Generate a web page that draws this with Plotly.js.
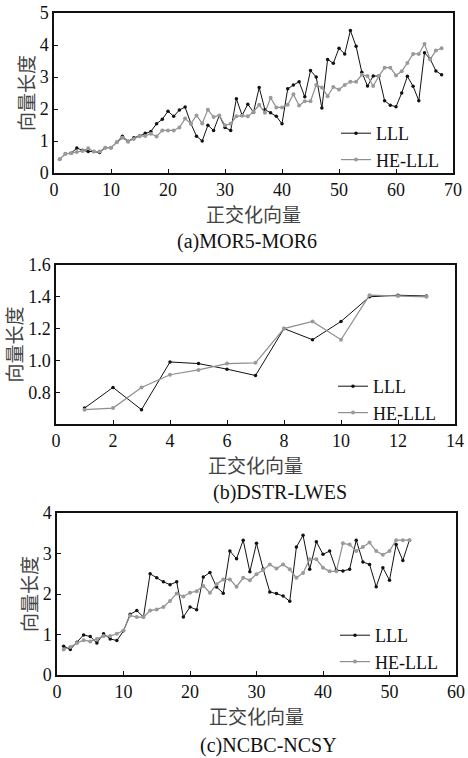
<!DOCTYPE html>
<html>
<head>
<meta charset="utf-8">
<script src="https://cdn.plot.ly/plotly-3.0.1.min.js"></script>
<style>html,body{margin:0;padding:0;background:#fff;}#chart{width:468px;height:758px;}</style>
</head>
<body>
<div id="chart"></div>
<script>
// (a) MOR5-MOR6
const xA = [];
for (let i = 1; i <= 68; i++) xA.push(i);
const lllA = [0.43,0.60,0.62,0.78,0.71,0.67,0.67,0.64,0.79,0.79,
  0.96,1.15,0.99,1.10,1.16,1.24,1.30,1.54,1.68,1.93,
  1.77,1.97,2.06,1.55,1.15,1.00,1.49,1.33,1.80,1.42,
  1.33,2.32,1.80,2.15,1.90,2.67,1.98,1.88,1.77,1.54,
  2.63,2.75,2.85,2.38,3.20,3.00,2.03,3.55,3.43,3.90,
  3.72,4.45,3.96,3.15,2.72,3.03,3.03,2.26,2.12,2.07,
  2.50,3.02,2.71,2.26,3.76,3.56,3.19,3.07];
const heA = [0.43,0.60,0.62,0.66,0.69,0.77,0.67,0.67,0.79,0.79,
  0.96,1.10,0.98,1.06,1.15,1.16,1.23,1.14,1.33,1.33,
  1.33,1.42,1.70,1.54,1.80,1.55,1.98,1.75,1.80,1.49,
  1.54,1.77,1.79,1.77,1.91,2.13,1.88,2.35,2.05,2.05,
  2.13,2.46,2.11,2.24,2.24,2.75,2.67,2.40,2.69,2.61,
  2.75,2.85,2.85,3.07,3.03,2.72,3.03,3.29,3.29,3.05,
  3.18,3.44,3.72,3.72,4.03,3.55,3.83,3.90];

// (b) DSTR-LWES
const xB = [1,2,3,4,5,6,7,8,9,10,11,12,13];
const lllB = [0.70,0.83,0.69,0.99,0.98,0.945,0.905,1.20,1.13,1.245,1.40,1.41,1.405];
const heB  = [0.69,0.70,0.83,0.91,0.94,0.98,0.985,1.20,1.245,1.13,1.41,1.405,1.40];

// (c) NCBC-NCSY
const xC = [];
for (let i = 1; i <= 53; i++) xC.push(i);
const lllC = [0.71,0.63,0.81,0.99,0.95,0.79,1.02,0.89,0.85,1.09,
  1.50,1.59,1.43,2.50,2.40,2.30,2.23,2.30,1.43,1.68,
  1.61,2.42,2.53,2.17,2.02,3.06,2.87,3.33,2.55,3.25,
  2.62,2.05,2.01,1.95,1.82,3.16,3.45,2.61,3.29,2.98,
  3.06,2.59,2.57,2.61,3.33,2.79,2.73,2.18,2.65,2.34,
  3.22,2.83,3.33];
const heC = [0.63,0.69,0.79,0.86,0.83,0.89,0.96,0.96,1.02,1.10,
  1.47,1.43,1.43,1.59,1.62,1.68,1.83,2.01,1.94,2.03,
  2.07,2.20,2.03,2.24,2.36,2.36,2.18,2.40,2.34,2.49,
  2.59,2.73,2.63,2.73,2.61,2.40,2.52,2.86,2.86,2.65,
  2.56,2.56,3.25,3.22,3.06,3.16,3.27,3.06,2.97,3.06,
  3.33,3.33,3.33];

const ticksB = [0.8,1.0,1.2,1.4,1.6];
const seriesNames = ['LLL','HE-LLL'];
const captions = ['(a)MOR5-MOR6','(b)DSTR-LWES','(c)NCBC-NCSY'];
const xTitle = '正交化向量';
const yTitle = '向量长度';

const serif = "'Liberation Serif', 'Times New Roman', serif";
const cjk = "'Noto Sans CJK SC', sans-serif";
const blackLine = {color:'#111', width:1};
const blackMarker = {color:'#111', size:3.5, symbol:'circle'};
const greyLine = {color:'#8e8e8e', width:1.2};
const greyMarker = {color:'#9a9a9a', size:4, symbol:'circle'};

function tr(x, y, name, idx, leg, black) {
  return {x:x, y:y, name:name, type:'scatter', mode:'lines+markers',
    xaxis: idx===1?'x':'x'+idx, yaxis: idx===1?'y':'y'+idx,
    legend: leg, line: black?blackLine:greyLine, marker: black?blackMarker:greyMarker};
}
const data = [
  tr(xA, lllA, seriesNames[0], 1, 'legend', true),
  tr(xA, heA, seriesNames[1], 1, 'legend', false),
  tr(xB, lllB, seriesNames[0], 2, 'legend2', true),
  tr(xB, heB, seriesNames[1], 2, 'legend2', false),
  tr(xC, lllC, seriesNames[0], 3, 'legend3', true),
  tr(xC, heC, seriesNames[1], 3, 'legend3', false)
];

const W = 468, H = 758;
function px2x(p){return p/W;}
function px2y(p){return 1-p/H;}

function xax(dom, range, dtick, anchor, standoff) {
  return {domain:dom, range:range, dtick:dtick, tick0:0, anchor:anchor,
    showline:true, linecolor:'#111', linewidth:1.6, mirror:true,
    ticks:'inside', ticklen:4, tickcolor:'#111', showgrid:false, zeroline:false,
    tickfont:{family:serif, size:18, color:'#111'},
    title:{text:xTitle, font:{family:cjk, size:19, color:'#444'}, standoff:standoff}};
}
function yax(dom, range, anchor, standoff, extra) {
  const a = {domain:dom, range:range, anchor:anchor,
    showline:true, linecolor:'#111', linewidth:1.6, mirror:true,
    ticks:'inside', ticklen:4, tickcolor:'#111', showgrid:false, zeroline:false,
    tickfont:{family:serif, size:18, color:'#111'},
    title:{text:yTitle, font:{family:cjk, size:19, color:'#444'}, standoff:standoff}};
  return Object.assign(a, extra||{});
}
function leg(xpx, ypx) {
  return {x:px2x(xpx), y:px2y(ypx), xanchor:'left', yanchor:'top',
    bgcolor:'rgba(0,0,0,0)', borderwidth:0, tracegroupgap:0,
    font:{family:serif, size:18, color:'#111'}};
}

const layout = {
  width:W, height:H, margin:{l:0,r:0,t:0,b:0},
  paper_bgcolor:'#fff', plot_bgcolor:'#fff', showlegend:true,
  xaxis: xax([px2x(54),px2x(453)],[0,70],10,'y',1),
  yaxis: yax([px2y(173),px2y(13)],[0,5],'x',0,{dtick:1,tick0:0}),
  xaxis2: xax([px2x(56),px2x(455)],[0,14],2,'y2',4),
  yaxis2: yax([px2y(424),px2y(265)],[0.6,1.6],'x2',1,{tickvals:ticksB,tickformat:'.1f'}),
  xaxis3: xax([px2x(57),px2x(456)],[0,60],10,'y3',1),
  yaxis3: yax([px2y(675),px2y(513)],[0,4],'x3',0,{dtick:1,tick0:0}),
  legend: leg(336,115),
  legend2: leg(333,368),
  legend3: leg(335,617),
  annotations: [
    {text:captions[0], xref:'paper', yref:'paper', x:px2x(247), y:px2y(242), xanchor:'center', yanchor:'middle', showarrow:false, font:{family:serif, size:20, color:'#111'}},
    {text:captions[1], xref:'paper', yref:'paper', x:px2x(280), y:px2y(492), xanchor:'center', yanchor:'middle', showarrow:false, font:{family:serif, size:20, color:'#111'}},
    {text:captions[2], xref:'paper', yref:'paper', x:px2x(268), y:px2y(745), xanchor:'center', yanchor:'middle', showarrow:false, font:{family:serif, size:20, color:'#111'}}
  ]
};

Plotly.newPlot('chart', data, layout, {displayModeBar:false, staticPlot:true});
</script>
</body>
</html>
